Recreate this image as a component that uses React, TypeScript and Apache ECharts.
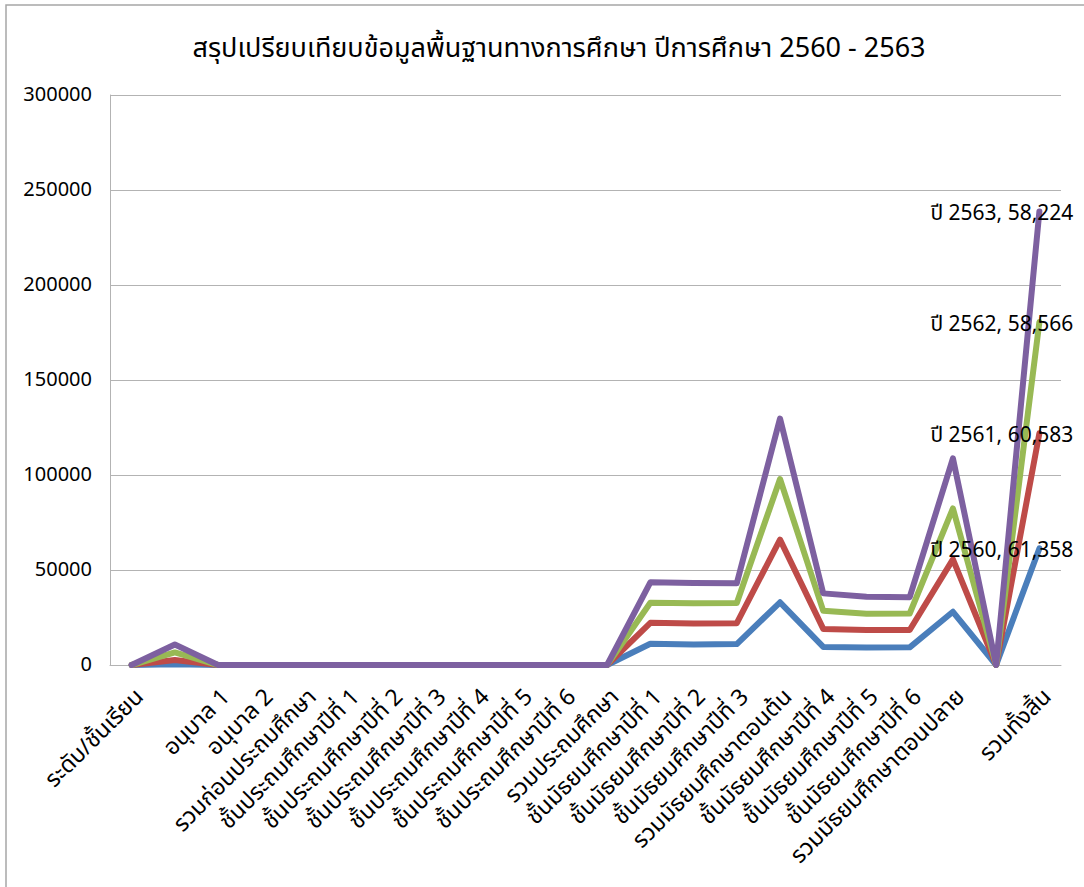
import React, { useEffect, useRef } from 'react';
import * as echarts from 'echarts';

const categories = [
  'ระดับ/ชั้นเรียน',
  '',
  'อนุบาล 1',
  'อนุบาล 2',
  'รวมก่อนประถมศึกษา',
  'ชั้นประถมศึกษาปีที่ 1',
  'ชั้นประถมศึกษาปีที่ 2',
  'ชั้นประถมศึกษาปีที่ 3',
  'ชั้นประถมศึกษาปีที่ 4',
  'ชั้นประถมศึกษาปีที่ 5',
  'ชั้นประถมศึกษาปีที่ 6',
  'รวมประถมศึกษา',
  'ชั้นมัธยมศึกษาปีที่ 1',
  'ชั้นมัธยมศึกษาปีที่ 2',
  'ชั้นมัธยมศึกษาปีที่ 3',
  'รวมมัธยมศึกษาตอนต้น',
  'ชั้นมัธยมศึกษาปีที่ 4',
  'ชั้นมัธยมศึกษาปีที่ 5',
  'ชั้นมัธยมศึกษาปีที่ 6',
  'รวมมัธยมศึกษาตอนปลาย',
  '',
  'รวมทั้งสิ้น',
];

const seriesNames = ['ปี 2560', 'ปี 2561', 'ปี 2562', 'ปี 2563'];
const seriesColors = ['#4A7EBB', '#BE4B48', '#98B954', '#7D60A0'];

const v2560 = [0, 400, 0, 0, 0, 0, 0, 0, 0, 0, 0, 0, 11200, 10800, 11000, 33000, 9500, 9200, 9300, 28000, 0, 61358];
const v2561 = [0, 2200, 0, 0, 0, 0, 0, 0, 0, 0, 0, 0, 11000, 11100, 11000, 33000, 9500, 9200, 9100, 27600, 0, 60583];
const v2562 = [0, 4000, 0, 0, 0, 0, 0, 0, 0, 0, 0, 0, 10600, 10600, 10600, 31900, 9500, 8600, 8700, 26800, 0, 58566];
const v2563 = [0, 4200, 0, 0, 0, 0, 0, 0, 0, 0, 0, 0, 10700, 10700, 10400, 31800, 9200, 8900, 8600, 26400, 0, 58224];

const yMin = 0;
const yMax = 300000;
const yInterval = 50000;

const titleText = 'สรุปเปรียบเทียบข้อมูลพื้นฐานทางการศึกษา ปีการศึกษา 2560 - 2563';

const FONT = "Tahoma, 'Noto Sans Thai', Loma, Garuda, 'Noto Sans', 'DejaVu Sans', sans-serif";

export default function App() {
  const ref = useRef<HTMLDivElement>(null);
  useEffect(() => {
    if (!ref.current) return;
    const chart = echarts.init(ref.current, null, { renderer: 'svg' });
    const allValues = [v2560, v2561, v2562, v2563];
    const fmt = (n: number) => n.toLocaleString('en-US');
    chart.setOption({
      animation: false,
      backgroundColor: '#ffffff',
      textStyle: { fontFamily: FONT },
      graphic: [
        {
          type: 'rect',
          shape: { x: 6, y: 5, width: 1300, height: 1000 },
          style: { fill: 'none', stroke: '#a6a6a6', lineWidth: 1.5 },
          silent: true,
        },
        {
          type: 'text',
          x: 559,
          y: 48,
          style: {
            text: titleText,
            fontFamily: FONT,
            fontSize: 27,
            fill: '#000000',
            align: 'center',
            verticalAlign: 'middle',
          },
        },
      ],
      grid: { left: 110, right: 23, top: 95, bottom: 222, containLabel: false },
      xAxis: {
        type: 'category',
        data: categories,
        boundaryGap: true,
        axisLine: { show: true, lineStyle: { color: '#b3b3b3', width: 1 } },
        axisTick: { show: false },
        splitLine: { show: false },
        axisLabel: {
          interval: 0,
          rotate: 45,
          margin: 20,
          verticalAlign: 'top',
          color: '#000000',
          fontSize: 23,
          fontFamily: FONT,
        },
      },
      yAxis: {
        type: 'value',
        min: yMin,
        max: yMax,
        interval: yInterval,
        axisLine: { show: true, lineStyle: { color: '#b3b3b3', width: 1 } },
        axisTick: { show: false },
        splitLine: { show: true, lineStyle: { color: '#b3b3b3', width: 1 } },
        axisLabel: {
          color: '#000000',
          fontSize: 20,
          margin: 18,
          fontFamily: FONT,
          formatter: (v: number) => String(v),
        },
      },
      series: seriesNames.map((name, si) => ({
        name,
        type: 'line',
        stack: 'total',
        showSymbol: false,
        symbol: 'none',
        color: seriesColors[si],
        lineStyle: { color: seriesColors[si], width: 6, cap: 'round', join: 'round' },
        endLabel: {
          show: true,
          distance: 5,
          offset: [-114, 2],
          formatter: () => `${name}, ${fmt(allValues[si][allValues[si].length - 1])}`,
          color: '#000000',
          fontSize: 21,
          fontFamily: FONT,
        },
        data: allValues[si],
      })),
    });
    return () => chart.dispose();
  }, []);
  return (
    <div
      ref={ref}
      style={{ position: 'absolute', left: 0, top: 0, width: 1084, height: 887, background: '#fff' }}
    />
  );
}
